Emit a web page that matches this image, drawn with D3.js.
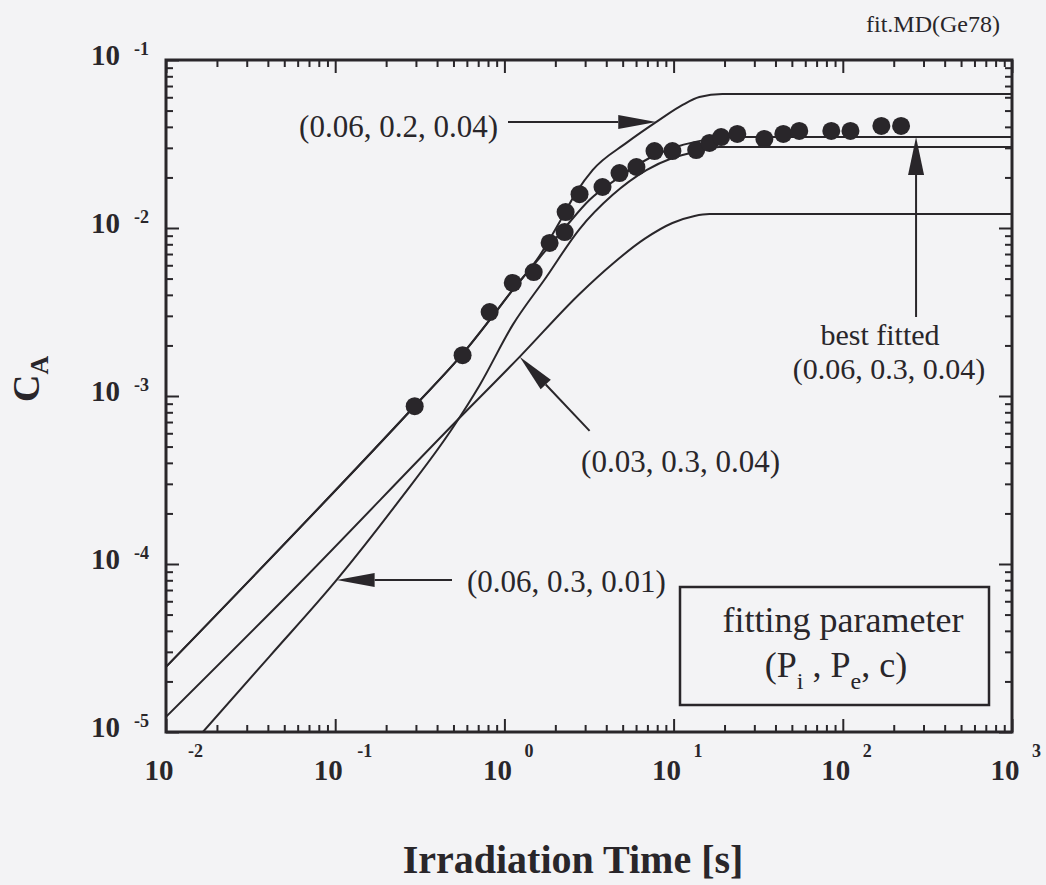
<!DOCTYPE html>
<html>
<head>
<meta charset="utf-8">
<script src="https://cdn.jsdelivr.net/npm/d3@7"></script>
<style>
body { margin: 0; background: #f3f3f5; }
svg { display: block; }
text { font-family: "Liberation Serif", "Times New Roman", serif; fill: #29262a; }
.bold { font-weight: bold; }
</style>
</head>
<body>
<div class="container"></div>
<script>
// decades shown on the log axes
var xDecades = [-2, -1, 0, 1, 2, 3];
var yDecades = [-5, -4, -3, -2, -1];

// measured C_A against irradiation time [s]
var dotTime = [0.295, 0.566, 0.818, 1.12, 1.49, 1.85, 2.27, 2.30, 2.78, 3.80, 4.79, 6.03, 7.71, 9.84, 13.6, 16.3, 19.1, 23.8, 34.4, 44.5, 55.3, 85.5, 111, 169, 221];
var dotCA = [8.7e-4, 1.75e-3, 3.16e-3, 4.71e-3, 5.47e-3, 8.15e-3, 9.46e-3, 0.01245, 0.0159, 0.01754, 0.02123, 0.02307, 0.02871, 0.0287, 0.0291, 0.0321, 0.0348, 0.0363, 0.0339, 0.0363, 0.0378, 0.0378, 0.0378, 0.0405, 0.0405];

// model curves for fitting parameters (Pi, Pe, c)
var timeA = [0.01, 0.295, 0.566, 1.12, 1.61, 2.12, 2.67, 3.32, 5.26, 8.24, 11.3, 14.2, 19.4, 1000];
var caA = [2.44e-5, 8.72e-4, 1.78e-3, 4.28e-3, 6.81e-3, 0.01086, 0.0164, 0.0221, 0.0321, 0.0440, 0.0540, 0.0602, 0.0628, 0.0628];

var timeB = [0.01, 0.295, 0.566, 0.818, 1.12, 1.61, 2.27, 3.18, 4.79, 7.20, 10.8, 15.2, 19.1, 1000];
var caB = [2.44e-5, 8.72e-4, 1.78e-3, 2.83e-3, 4.28e-3, 6.63e-3, 0.0100, 0.01468, 0.0201, 0.0261, 0.0308, 0.0334, 0.0348, 0.0348];

var timeC = [0.01, 0.0618, 0.494, 1.23, 2.78, 4.35, 6.73, 9.84, 13.3, 16.3, 1000];
var caC = [1.23e-5, 7.71e-5, 6.72e-4, 1.71e-3, 4.05e-3, 6.11e-3, 8.61e-3, 0.01071, 0.0118, 0.0121, 0.0121];

var timeD = [0.01652, 0.0411, 0.102, 0.240, 0.494, 0.714, 1.12, 1.77, 2.78, 4.35, 6.91, 9.84, 14.2, 18.6, 1000];
var caD = [1e-5, 2.83e-5, 8.04e-5, 2.40e-4, 6.45e-4, 1.16e-3, 2.65e-3, 5.11e-3, 9.86e-3, 0.0157, 0.0221, 0.0261, 0.0287, 0.0303, 0.0303];

var labelA = "(0.06, 0.2, 0.04)";
var labelB = "(0.06, 0.3, 0.04)";
var labelC = "(0.03, 0.3, 0.04)";
var labelD = "(0.06, 0.3, 0.01)";

const WIDTH = 1046;
const HEIGHT = 885;
const LEFT = 166, RIGHT = 1012, TOP = 60, BOTTOM = 732;
const INK = '#29262a';

var svg = d3.select('.container').append('svg')
    .attr('width', WIDTH)
    .attr('height', HEIGHT);

var xScale = d3.scaleLog().domain([1e-2, 1e3]).range([LEFT, RIGHT]);
var yScale = d3.scaleLog().domain([1e-5, 1e-1]).range([BOTTOM, TOP]);

// all 1..9 ticks in every decade
var tickValues = function (decades) {
    var vals = [];
    decades.forEach(function (p, i) {
        for (var m = 1; m < 10; m++) {
            if (i == decades.length - 1 && m > 1) break;
            vals.push(m * Math.pow(10, p));
        }
    });
    return vals;
};
var isMajor = function (v) {
    var l = Math.log10(v);
    return Math.abs(l - Math.round(l)) < 1e-6;
};

var xTicks = tickValues(xDecades);
var yTicks = tickValues(yDecades);

var axes = [
    { axis: d3.axisBottom(xScale).tickValues(xTicks), at: 'translate(0,' + BOTTOM + ')', dir: 'y2', sign: -1 },
    { axis: d3.axisTop(xScale).tickValues(xTicks), at: 'translate(0,' + TOP + ')', dir: 'y2', sign: 1 },
    { axis: d3.axisLeft(yScale).tickValues(yTicks), at: 'translate(' + LEFT + ',0)', dir: 'x2', sign: 1 },
    { axis: d3.axisRight(yScale).tickValues(yTicks), at: 'translate(' + RIGHT + ',0)', dir: 'x2', sign: -1 }
];
axes.forEach(function (a) {
    var g = svg.append('g')
        .attr('transform', a.at)
        .call(a.axis.tickSize(-7).tickSizeOuter(0).tickFormat(''));
    g.select('.domain').remove();
    g.selectAll('.tick line')
        .attr('stroke', INK)
        .attr('stroke-width', 2)
        .attr(a.dir, function (d) { return a.sign * (isMajor(d) ? 13 : 7); });
});

svg.append('rect')
    .attr('x', LEFT).attr('y', TOP)
    .attr('width', RIGHT - LEFT).attr('height', BOTTOM - TOP)
    .attr('fill', 'none')
    .attr('stroke', INK)
    .attr('stroke-width', 3);

// tick labels: 10 with a raised exponent
yDecades.forEach(function (p) {
    var yy = yScale(Math.pow(10, p));
    svg.append('text').attr('class', 'bold')
        .attr('x', 120).attr('y', yy + 5)
        .attr('text-anchor', 'end')
        .style('font-size', '29px')
        .text('10');
    svg.append('text').attr('class', 'bold')
        .attr('x', 134).attr('y', yy - 5)
        .style('font-size', '18px')
        .text(p);
});
xDecades.forEach(function (p) {
    var xx = xScale(Math.pow(10, p));
    svg.append('text').attr('class', 'bold')
        .attr('x', xx - 7).attr('y', 780)
        .attr('text-anchor', 'middle')
        .style('font-size', '29px')
        .text('10');
    svg.append('text').attr('class', 'bold')
        .attr('x', xx + (p < 0 ? 22 : 20)).attr('y', 757)
        .style('font-size', '18px')
        .text(p);
});

svg.append('text').attr('class', 'bold')
    .attr('x', 573).attr('y', 873)
    .attr('text-anchor', 'middle')
    .style('font-size', '40px')
    .text('Irradiation Time [s]');

var yTitle = svg.append('text').attr('class', 'bold')
    .attr('transform', 'translate(39,402) rotate(-90)')
    .style('font-size', '38px');
yTitle.append('tspan').text('C');
yTitle.append('tspan').attr('dy', 9).style('font-size', '26px').text('A');

svg.append('text')
    .attr('x', 1000).attr('y', 32)
    .attr('text-anchor', 'end')
    .style('font-size', '24px')
    .text('fit.MD(Ge78)');

// curves
var plot = svg.append('g');
plot.append('clipPath').attr('id', 'clip')
    .append('rect')
    .attr('x', LEFT).attr('y', TOP)
    .attr('width', RIGHT - LEFT).attr('height', BOTTOM - TOP);

var line = d3.line()
    .x(function (d) { return xScale(d[0]); })
    .y(function (d) { return yScale(d[1]); })
    .curve(d3.curveMonotoneX);

[[timeA, caA], [timeB, caB], [timeC, caC], [timeD, caD]].forEach(function (c) {
    plot.append('path')
        .attr('clip-path', 'url(#clip)')
        .attr('d', line(d3.zip(c[0], c[1])))
        .attr('fill', 'none')
        .attr('stroke', INK)
        .attr('stroke-width', 2);
});

plot.selectAll('circle')
    .data(d3.zip(dotTime, dotCA))
    .enter().append('circle')
    .attr('cx', function (d) { return xScale(d[0]); })
    .attr('cy', function (d) { return yScale(d[1]); })
    .attr('r', 9)
    .attr('fill', INK);

// value of a curve at time t, log-log interpolation
var curveAt = function (ts, cs, t) {
    for (var i = 0; i < ts.length - 1; i++) {
        if (t >= ts[i] && t <= ts[i + 1]) {
            var f = (Math.log10(t) - Math.log10(ts[i])) / (Math.log10(ts[i + 1]) - Math.log10(ts[i]));
            return Math.pow(10, Math.log10(cs[i]) + f * (Math.log10(cs[i + 1]) - Math.log10(cs[i])));
        }
    }
    return cs[cs.length - 1];
};

var arrow = function (x1, y1, x2, y2, hw) {
    var dx = x2 - x1, dy = y2 - y1;
    var len = Math.sqrt(dx * dx + dy * dy);
    var ux = dx / len, uy = dy / len;
    var bx = x2 - ux * 38, by = y2 - uy * 38;
    svg.append('line')
        .attr('x1', x1).attr('y1', y1).attr('x2', bx).attr('y2', by)
        .attr('stroke', INK).attr('stroke-width', 2);
    svg.append('path')
        .attr('d', 'M' + x2 + ',' + y2 + 'L' + (bx - uy * hw) + ',' + (by + ux * hw) +
            'L' + (bx + uy * hw) + ',' + (by - ux * hw) + 'Z')
        .attr('fill', INK);
};

var label = function (x, y, anchor, txt, size) {
    svg.append('text')
        .attr('x', x).attr('y', y)
        .attr('text-anchor', anchor)
        .style('font-size', (size || 31) + 'px')
        .text(txt);
};

// (0.06, 0.2, 0.04)
var tA = 7.9;
var yA = yScale(curveAt(timeA, caA, tA));
arrow(508, yA, xScale(tA), yA, 7);
label(498, yA + 15, 'end', labelA);

// best fitted
var tB = 271;
arrow(xScale(tB), 317, xScale(tB), yScale(curveAt(timeB, caB, tB)), 8);
label(880, 345, 'middle', 'best fitted', 30);
label(889, 379, 'middle', labelB, 30);

// (0.03, 0.3, 0.04)
var tC = 1.23;
var pxC = xScale(tC), pyC = yScale(curveAt(timeC, caC, tC));
arrow(pxC + 70, pyC + 74, pxC, pyC, 7);
label(780, 472, 'end', labelC);

// (0.06, 0.3, 0.01)
var tD = 0.102;
var yD = yScale(curveAt(timeD, caD, tD));
arrow(452, yD, xScale(tD), yD, 7);
label(467, yD + 12, 'start', labelD);

// legend box
svg.append('rect')
    .attr('x', 680).attr('y', 587)
    .attr('width', 309).attr('height', 118)
    .attr('fill', 'none')
    .attr('stroke', INK)
    .attr('stroke-width', 2.5);
svg.append('text')
    .attr('x', 843).attr('y', 632)
    .attr('text-anchor', 'middle')
    .style('font-size', '36px')
    .text('fitting parameter');
var par = svg.append('text')
    .attr('x', 836).attr('y', 677)
    .attr('text-anchor', 'middle')
    .style('font-size', '36px');
par.append('tspan').text('(P');
par.append('tspan').attr('dy', 12).style('font-size', '24px').text('i');
par.append('tspan').attr('dy', -12).text(' , P');
par.append('tspan').attr('dy', 12).style('font-size', '24px').text('e');
par.append('tspan').attr('dy', -12).text(', c)');
</script>
</body>
</html>
